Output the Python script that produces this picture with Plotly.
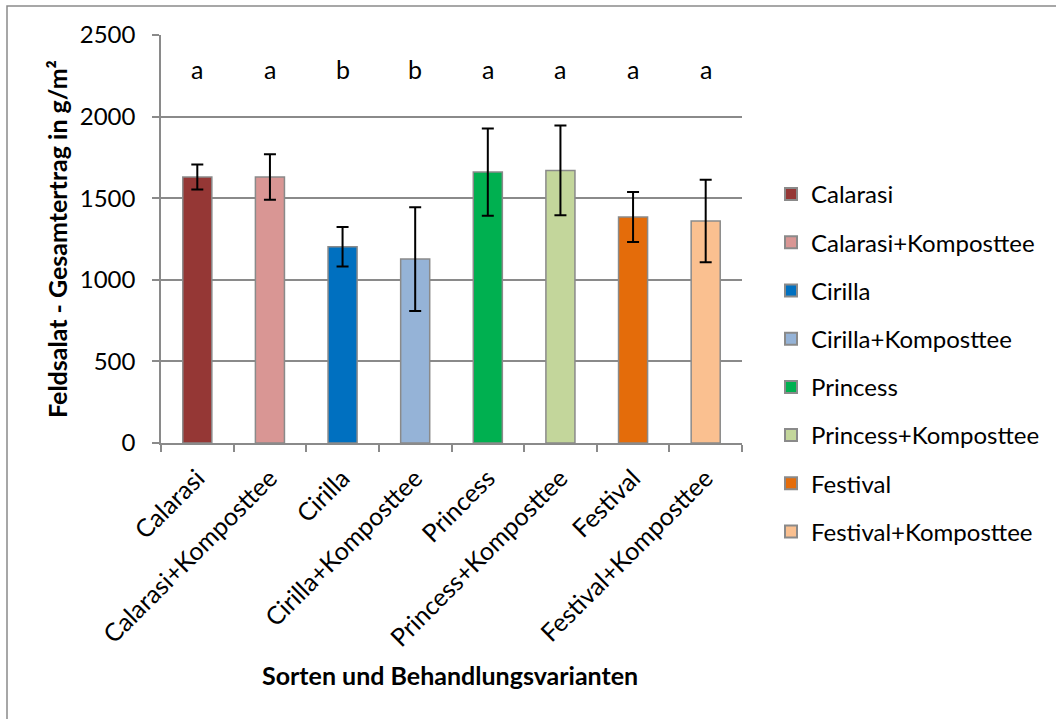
import plotly.graph_objects as go

categories = ["Calarasi", "Calarasi+Komposttee", "Cirilla", "Cirilla+Komposttee",
              "Princess", "Princess+Komposttee", "Festival", "Festival+Komposttee"]
values = [1630, 1630, 1202, 1127, 1660, 1670, 1385, 1360]
errors = [77, 140, 121, 318, 267, 275, 153, 253]
letters = ["a", "a", "b", "b", "a", "a", "a", "a"]
letter_y = 2290
colors = ["#953735", "#D99694", "#0070C0", "#95B3D7",
          "#00B050", "#C3D69B", "#E46C0A", "#FAC090"]

FONT = "Lato"
FS = 24
W, H = 1056, 719
L, R, T, B = 161, 314, 35, 276
pw, ph = W - L - R, H - T - B


def px(x):
    return (x - L) / pw


def py(y):
    return (H - B - y) / ph


fig = go.Figure()
for i, c in enumerate(categories):
    fig.add_trace(go.Bar(
        x=[c], y=[values[i]], name=c, legendgroup=c,
        marker=dict(color=colors[i], line=dict(color="#8a8a8a", width=1.5)),
        width=0.4,
        error_y=dict(type="data", array=[errors[i]], color="black", thickness=2, width=6),
    ))

for i, c in enumerate(categories):
    fig.add_annotation(x=c, y=letter_y, text=letters[i], showarrow=False,
                       font=dict(family=FONT, size=25, color="black"))

fig.add_annotation(xref="paper", yref="paper", x=px(57), y=py(239), text="<b>Feldsalat - Gesamtertrag in g/m²</b>",
                   textangle=-90, showarrow=False, xanchor="center", yanchor="middle",
                   font=dict(family=FONT, size=25, color="black"))
fig.add_annotation(xref="paper", yref="paper", x=px(450), y=py(675), text="<b>Sorten und Behandlungsvarianten</b>",
                   showarrow=False, xanchor="center", yanchor="middle",
                   font=dict(family=FONT, size=25, color="black"))

fig.add_shape(type="rect", xref="paper", yref="paper", x0=px(7), x1=px(1070), y0=py(760), y1=py(6),
              line=dict(color="#8a8a8a", width=1.5), fillcolor="rgba(0,0,0,0)", layer="below")

fig.update_layout(
    width=W, height=H,
    margin=dict(l=L, r=R, t=T, b=B, autoexpand=False),
    paper_bgcolor="white", plot_bgcolor="white",
    barmode="overlay",
    font=dict(family=FONT, size=FS, color="black"),
    showlegend=True,
    legend=dict(x=px(771), xanchor="left", y=py(172), yanchor="top",
                font=dict(family=FONT, size=FS), tracegroupgap=14,
                itemsizing="constant", bgcolor="rgba(0,0,0,0)"),
    xaxis=dict(type="category", tickangle=-45, showline=True, linecolor="#8a8a8a", linewidth=1.5,
               ticks="outside", ticklen=7, tickcolor="#8a8a8a", tickwidth=1.5, tickson="boundaries",
               tickfont=dict(family=FONT, size=25), automargin=False, ticklabelstandoff=9),
    yaxis=dict(range=[0, 2500], dtick=500, showgrid=True, gridcolor="#8a8a8a", gridwidth=1.5,
               showline=True, linecolor="#8a8a8a", linewidth=1.5,
               ticks="outside", ticklen=7, tickcolor="#8a8a8a", tickwidth=1.5,
               tickfont=dict(family=FONT, size=FS), zeroline=False, automargin=False,
               ticklabelstandoff=12),
)

fig.write_html("out.html", config={"displayModeBar": False},
               post_script="document.body.style.margin='0';document.body.style.overflow='hidden';")
